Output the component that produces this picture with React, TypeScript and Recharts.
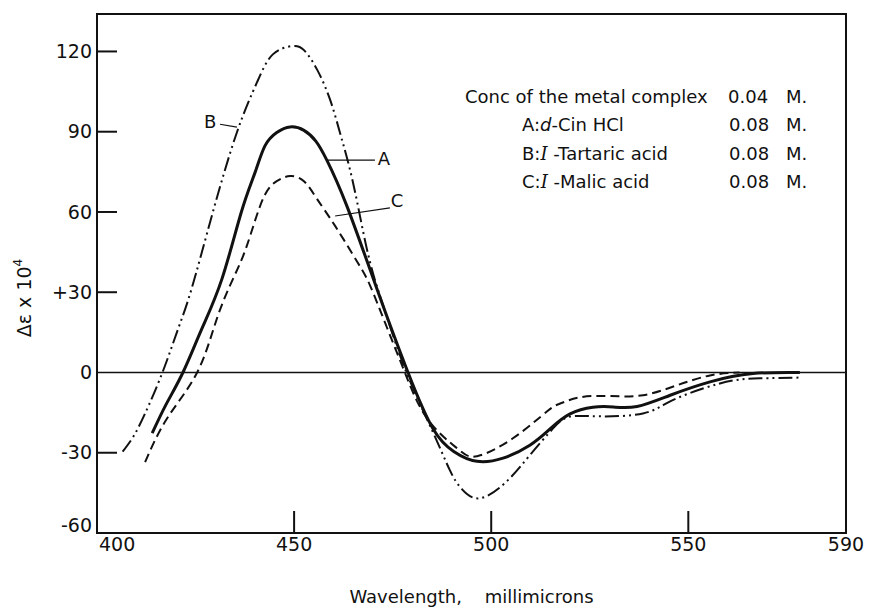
import {
  LineChart,
  Line,
  XAxis,
  YAxis,
  ReferenceLine,
  ReferenceArea,
  ReferenceDot,
} from "recharts";

// curve A: d-Cin HCl (solid)
const wavelengthA = [414, 417.5, 421.8, 426.5, 431.7, 436.6, 440.1, 442.6, 445.6, 449, 452.5, 455.5, 458.3, 463.4, 471, 478.9, 485.2, 490.5, 496.4, 503, 509.8, 515, 520, 525.8, 531, 537, 545.4, 555.5, 566.4, 578.3];
const deltaA = [-22.7, -12, 0, 16, 35, 59.9, 74.8, 84.7, 89.7, 91.8, 90.5, 86.5, 79.4, 62.2, 31.3, 0, -20.9, -29.5, -33.2, -32, -27.2, -21, -15.5, -13, -12.9, -12.7, -8.5, -3.5, -0.4, 0];

// curve B: l-Tartaric acid (dash dot dot)
const wavelengthB = [406.5, 409.2, 412.2, 416.6, 420.5, 424, 429.4, 435.5, 440.6, 444.6, 449.5, 452.5, 455.8, 459.1, 461.6, 463.7, 466, 469.3, 473.5, 478.5, 485, 489.5, 492.5, 497.2, 504, 509.8, 515.7, 520, 527.6, 538.5, 545.4, 553.7, 561.3, 568.2, 578.3];
const deltaB = [-29.6, -24, -15.3, 0, 16, 31.3, 60, 89.8, 108.5, 118.9, 122, 120.5, 113.3, 102.1, 89.8, 78.6, 63.7, 41, 21, 0, -21.6, -36.5, -43.5, -47, -40.6, -30.9, -20.9, -16.5, -16.4, -15.3, -10.8, -6, -3, -2.2, -1.9];

// curve C: l-Malic acid (dashed)
const wavelengthC = [412.2, 417.8, 425.4, 430.4, 434.5, 438, 442.1, 445.7, 449, 452.5, 455.8, 460.4, 466, 469.3, 473.5, 478.1, 483.7, 491.3, 496.4, 505.5, 514.2, 517.5, 522.5, 530, 538.5, 547.1, 555.5, 563];
const deltaC = [-33.5, -17.1, 0, 20.1, 35, 47.3, 64.9, 71.6, 73.4, 71.5, 64.9, 54.8, 41.4, 32.4, 17, 0, -17.1, -28.3, -31.3, -24.6, -14.5, -11.6, -9.3, -8.8, -8.5, -4.8, -1.1, 0];

const xTicks = [400, 450, 500, 550, 590];
const xTickLabels = ["400", "450", "500", "550", "590"];
const yTicks = [-60, -30, 0, 30, 60, 90, 120];
const yTickLabels = ["-60", "-30", "0", "+30", "60", "90", "120"];

const conditions = [
  { label: "A:", reagent: "d", rest: "-Cin HCl", conc: "0.08" },
  { label: "B:", reagent: "I", rest: " -Tartaric acid", conc: "0.08" },
  { label: "C:", reagent: "I", rest: " -Malic acid", conc: "0.08" },
];

const toPoints = (xs: number[], ys: number[]) => xs.map((w, i) => ({ w, v: ys[i] }));

const font = "'DejaVu Sans', sans-serif";
const ink = "#111";

const XTick = (props: any) => {
  const { x, y, payload } = props;
  const v = payload.value;
  const axisY = y - 5;
  const label = xTickLabels[xTicks.indexOf(v)];
  const inner = v !== 400 && v !== 590;
  return (
    <g>
      {inner && <line x1={x} x2={x} y1={axisY} y2={axisY - 22} stroke={ink} strokeWidth={2} />}
      <text
        x={v === 400 ? x + 2 : x}
        y={y}
        dy="0.71em"
        textAnchor={v === 400 ? "start" : "middle"}
        fontSize={19}
        fontFamily={font}
        fill={ink}
      >
        {label}
      </text>
    </g>
  );
};

const YTick = (props: any) => {
  const { x, y, payload } = props;
  const v = payload.value;
  const axisX = x + 5;
  const label = yTickLabels[yTicks.indexOf(v)];
  const inner = v !== 0 && v !== -60;
  return (
    <g>
      {inner && <line x1={axisX} x2={axisX + 20} y1={y} y2={y} stroke={ink} strokeWidth={2} />}
      <text
        x={x}
        y={v === -60 ? y - 8 : y}
        dy="0.35em"
        textAnchor="end"
        fontSize={19}
        fontFamily={font}
        fill={ink}
      >
        {label}
      </text>
    </g>
  );
};

const YTitle = () => (
  <text transform="translate(31, 298) rotate(-90)" textAnchor="middle" fontSize={19} fontFamily={font} fill={ink}>
    Δε x 10
    <tspan dy={-9} fontSize={12}>4</tspan>
  </text>
);

const legendText = { position: "absolute" as const, fontSize: 18, lineHeight: "22px", fontFamily: font, color: ink, whiteSpace: "pre" as const };

export default function App() {
  return (
    <div style={{ position: "absolute", left: 0, top: 0, width: 870, height: 609, background: "#fff" }}>
      <LineChart width={870} height={609} margin={{ top: 14, right: 24, bottom: 0, left: 0 }}>
        <XAxis
          dataKey="w"
          type="number"
          domain={[400, 590]}
          ticks={xTicks}
          interval={0}
          height={76}
          tickSize={0}
          tickMargin={5}
          tickLine={false}
          tick={XTick}
          axisLine={{ stroke: ink, strokeWidth: 2 }}
          label={{
            value: "Wavelength,\u00a0\u00a0\u00a0\u00a0millimicrons",
            position: "insideBottom",
            offset: 6,
            fontSize: 18,
            fontFamily: font,
            fill: ink,
          }}
        />
        <YAxis
          type="number"
          domain={[-60, 134]}
          ticks={yTicks}
          interval={0}
          width={97}
          tickSize={0}
          tickMargin={5}
          tickLine={false}
          tick={YTick}
          axisLine={{ stroke: ink, strokeWidth: 2 }}
          label={<YTitle />}
        />
        <ReferenceArea x1={400} x2={590} y1={-60} y2={134} fill="none" stroke={ink} strokeWidth={2} ifOverflow="visible" />
        <ReferenceLine y={0} stroke={ink} strokeWidth={1.5} />

        <ReferenceLine segment={[{ x: 431.2, y: 92.8 }, { x: 435.5, y: 91.7 }]} stroke={ink} strokeWidth={1.2} />
        <ReferenceLine segment={[{ x: 458.3, y: 79.4 }, { x: 470.5, y: 79.4 }]} stroke={ink} strokeWidth={1.2} />
        <ReferenceLine segment={[{ x: 460.4, y: 58.5 }, { x: 474.3, y: 61.5 }]} stroke={ink} strokeWidth={1.2} />
        <ReferenceDot x={428.7} y={93.9} r={0} fill="none" stroke="none"
          label={{ value: "B", position: "center", fontSize: 18, fontFamily: font, fill: ink }} />
        <ReferenceDot x={472.8} y={79.8} r={0} fill="none" stroke="none"
          label={{ value: "A", position: "center", fontSize: 18, fontFamily: font, fill: ink }} />
        <ReferenceDot x={476.1} y={64.1} r={0} fill="none" stroke="none"
          label={{ value: "C", position: "center", fontSize: 18, fontFamily: font, fill: ink }} />

        <Line
          data={toPoints(wavelengthB, deltaB)}
          dataKey="v"
          type="natural"
          stroke={ink}
          strokeWidth={2}
          strokeDasharray="14 4 2 4 2 4"
          dot={false}
          isAnimationActive={false}
        />
        <Line
          data={toPoints(wavelengthC, deltaC)}
          dataKey="v"
          type="natural"
          stroke={ink}
          strokeWidth={2}
          strokeDasharray="9 5"
          dot={false}
          isAnimationActive={false}
        />
        <Line
          data={toPoints(wavelengthA, deltaA)}
          dataKey="v"
          type="natural"
          stroke={ink}
          strokeWidth={3}
          dot={false}
          isAnimationActive={false}
        />
      </LineChart>

      <div style={{ ...legendText, left: 465, top: 86 }}>Conc of the metal complex</div>
      <div style={{ ...legendText, left: 728, top: 86 }}>0.04</div>
      <div style={{ ...legendText, left: 786, top: 86 }}>M.</div>
      {conditions.map((c, i) => (
        <div key={c.label}>
          <div style={{ ...legendText, left: 522, top: 114 + i * 28.5 }}>
            {c.label}
            <span style={{ fontStyle: "italic", fontFamily: c.reagent === "I" ? "'DejaVu Serif', serif" : font }}>{c.reagent}</span>
            {c.rest}
          </div>
          <div style={{ ...legendText, left: 729, top: 114 + i * 28.5 }}>{c.conc}</div>
          <div style={{ ...legendText, left: 786, top: 114 + i * 28.5 }}>M.</div>
        </div>
      ))}
    </div>
  );
}
